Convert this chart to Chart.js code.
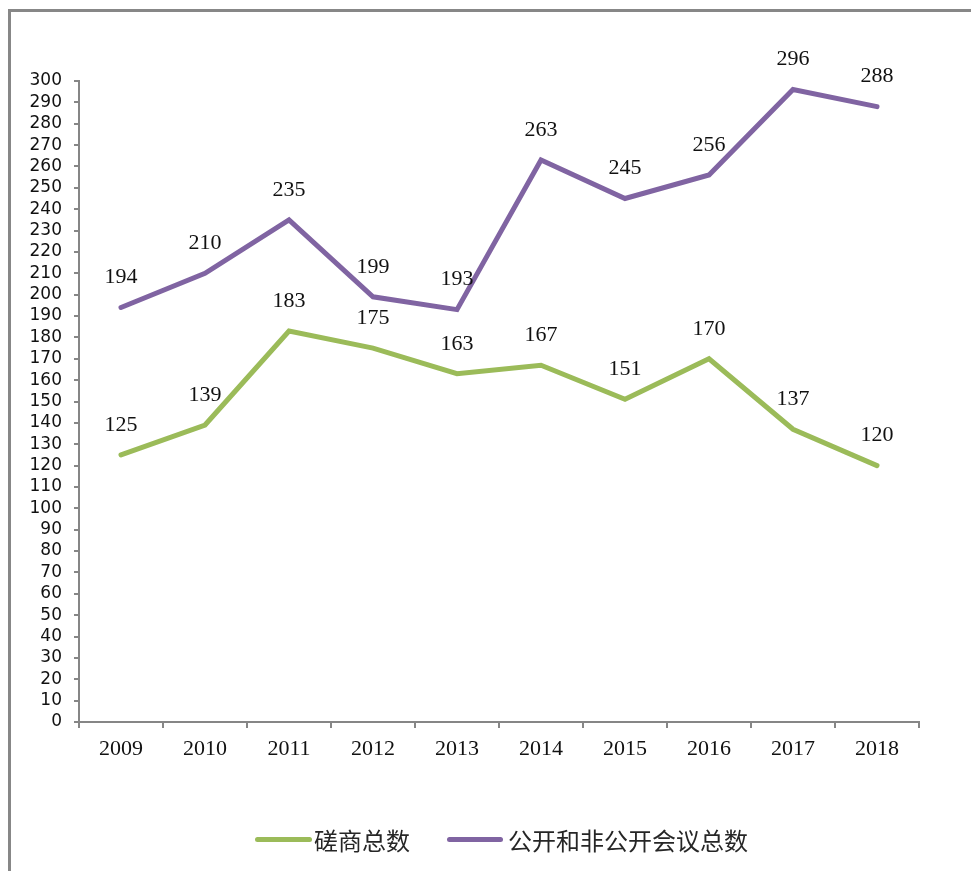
<!DOCTYPE html>
<html>
<head>
<meta charset="utf-8">
<script src="https://cdn.jsdelivr.net/npm/chart.js@4.4.1/dist/chart.umd.min.js"></script>
<style>
  html, body { margin: 0; padding: 0; background: #fff; overflow: hidden; }
  #wrap { position: relative; width: 971px; height: 871px; }
  #frame {
    position: absolute; left: 8px; top: 9px; width: 1000px; height: 900px;
    border-left: 3px solid #878787; border-top: 3px solid #878787;
  }
  #chart { position: absolute; left: 0; top: 0; }
  .leg-line { position: absolute; height: 5px; border-radius: 3px; top: 837px; }
  .leg-text {
    position: absolute; top: 826px; line-height: 28px; font-size: 24px; color: #262626;
    font-family: "Noto Sans CJK SC", sans-serif; white-space: nowrap;
  }
</style>
</head>
<body>
<div id="wrap">
  <div id="frame"></div>
  <canvas id="chart" width="971" height="871"></canvas>
  <div class="leg-line" style="left:255px;width:57px;background:#9BBB59"></div>
  <div class="leg-text" style="left:314px">磋商总数</div>
  <div class="leg-line" style="left:447px;width:56px;background:#8064A2"></div>
  <div class="leg-text" style="left:508px">公开和非公开会议总数</div>
</div>
<script>
// ---- data ----
const years = ['2009', '2010', '2011', '2012', '2013', '2014', '2015', '2016', '2017', '2018'];
const consultTotals = [125, 139, 183, 175, 163, 167, 151, 170, 137, 120];
const meetingTotals = [194, 210, 235, 199, 193, 263, 245, 256, 296, 288];
const seriesNames = ['磋商总数', '公开和非公开会议总数'];

const GREEN = '#9BBB59';
const PURPLE = '#8064A2';
const AXIS = '#868686';

// value labels above each point
const pointLabels = {
    id: 'pointLabels',
    afterDatasetsDraw(chart) {
        const ctx = chart.ctx;
        ctx.save();
        ctx.font = '22px "Liberation Serif", "Times New Roman", serif';
        ctx.fillStyle = '#111';
        ctx.textAlign = 'center';
        ctx.textBaseline = 'middle';
        chart.data.datasets.forEach((ds, i) => {
            const meta = chart.getDatasetMeta(i);
            meta.data.forEach((pt, j) => {
                ctx.fillText(String(ds.data[j]), pt.x, pt.y - 30);
            });
        });
        ctx.restore();
    }
};

const chart = new Chart(document.getElementById('chart').getContext('2d'), {
    type: 'line',
    data: {
        labels: years,
        datasets: [
            {
                label: seriesNames[0],
                data: consultTotals,
                borderColor: GREEN,
                backgroundColor: GREEN,
                borderWidth: 5, pointRadius: 0, tension: 0,
                borderCapStyle: 'round', borderJoinStyle: 'miter'
            },
            {
                label: seriesNames[1],
                data: meetingTotals,
                borderColor: PURPLE,
                backgroundColor: PURPLE,
                borderWidth: 5, pointRadius: 0, tension: 0,
                borderCapStyle: 'round', borderJoinStyle: 'miter'
            }
        ]
    },
    options: {
        responsive: false,
        animation: false,
        layout: { padding: { left: 0, top: 81, right: 52, bottom: 0 } },
        plugins: {
            legend: { display: false },
            tooltip: { enabled: false }
        },
        scales: {
            x: {
                offset: true,
                grid: { drawOnChartArea: false, offset: true, tickLength: 6, color: AXIS, lineWidth: 2 },
                border: { color: AXIS, width: 2 },
                ticks: {
                    color: '#111', padding: 8,
                    font: { family: '"Liberation Serif", "Times New Roman", serif', size: 22 }
                },
                afterFit(scale) { scale.height = 149; }
            },
            y: {
                min: 0, max: 300,
                grid: { drawOnChartArea: false, tickLength: 5, color: AXIS, lineWidth: 2 },
                border: { color: AXIS, width: 2 },
                ticks: {
                    stepSize: 10, autoSkip: false, color: '#111', padding: 12,
                    font: { family: '"DejaVu Sans", sans-serif', size: 17 }
                },
                afterFit(scale) { scale.width = 79; }
            }
        }
    },
    plugins: [pointLabels]
});
</script>
</body>
</html>
